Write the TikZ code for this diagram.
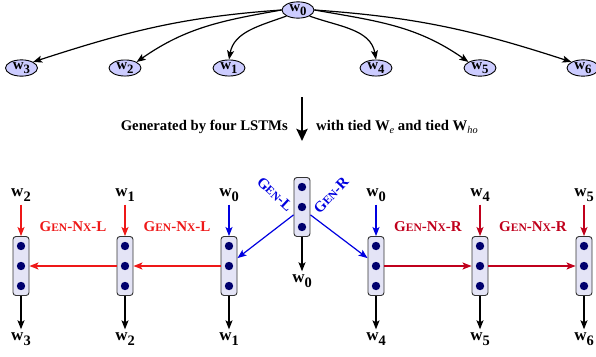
\documentclass[tikz,border=0pt]{standalone}
\usepackage{fontspec}
\setmainfont{Liberation Serif}
\usepackage{graphicx}
\usetikzlibrary{arrows.meta,calc,shapes.geometric}
\definecolor{redL}{HTML}{EE1818}
\definecolor{redR}{HTML}{C0001C}
\definecolor{blueG}{HTML}{0000E0}
\definecolor{ellfill}{HTML}{CCCCFF}
\definecolor{cellfill}{HTML}{E4E4F6}
\definecolor{dotc}{HTML}{00006E}
\newcommand\wsub[1]{w\raisebox{-0.3em}{\scalebox{0.85}{#1}}}
\newcommand\smcp[1]{{\fontsize{11.5}{12}\selectfont #1}}
\begin{document}
\begin{tikzpicture}[x=1pt,y=1pt,
  ell/.style={ellipse,draw=black,line width=0.9pt,fill=ellfill,minimum width=32pt,minimum height=16pt,inner sep=0pt,font=\fontsize{15}{15}\selectfont\bfseries},
  arr/.style={-{Stealth[length=9pt,width=7pt,inset=2pt]},line width=1.2pt},
  wlab/.style={font=\fontsize{17}{17}\selectfont\bfseries,inner sep=0pt},
  cellbox/.style={draw=black!80,line width=0.9pt,fill=cellfill,rounded corners=3pt,minimum width=16pt,minimum height=59pt,inner sep=0pt},
  gen/.style={font=\fontsize{15}{15}\selectfont\bfseries,inner sep=0pt},
  txt/.style={font=\fontsize{14.7}{15}\selectfont\bfseries,inner sep=0pt}]
\useasboundingbox (0,0) rectangle (596,-356);

% top tree
\node[ell] (t0) at (298,-10) {\wsub0};
\node[ell] (t3) at (21.5,-68) {\wsub3};
\node[ell] (t2) at (125,-68) {\wsub2};
\node[ell] (t1) at (229,-68) {\wsub1};
\node[ell] (t4) at (376,-68) {\wsub4};
\node[ell] (t5) at (480,-68) {\wsub5};
\node[ell] (t6) at (583,-68) {\wsub6};
\draw[arr] (t0.west) to[out=184,in=18] (t3.north east);
\draw[arr] (t0.west) to[out=190,in=35] (t2.north east);
\draw[arr] (t0.south west) to[out=200,in=80] (t1.north);
\draw[arr] (t0.east) to[out=-4,in=162] (t6.north west);
\draw[arr] (t0.east) to[out=-10,in=145] (t5.north west);
\draw[arr] (t0.south east) to[out=-20,in=100] (t4.north);

% middle
\coordinate (ma) at (302,-97);
\coordinate (mb) at (302,-141);
\draw[line width=2.8pt,-{Stealth[length=12pt,width=11pt,inset=2pt]}] (ma) -- (mb);
\node[txt,anchor=east] (g1) at (288,-127) {Generated by four LSTMs};
\node[txt,anchor=west] (g2) at (316,-127) {with tied W\raisebox{-0.25em}{\scalebox{0.7}{\itshape\mdseries e}} and tied W\raisebox{-0.25em}{\scalebox{0.7}{\itshape\mdseries ho}}};

% cells
\foreach \n/\x/\y in {c3/21/-266,c2/125/-266,c1/229/-266,c0/302/-207,c4/376/-266,c5/480/-266,c6/584/-266}{
  \node[cellbox] (\n) at (\x,\y) {};
  \foreach \d in {-20,0,20}{\fill[dotc] (\x,\y+\d) circle (4.2pt);}
}

% input labels
\node[wlab] (i2) at (21,-195) {\wsub2};
\node[wlab] (i1) at (125,-195) {\wsub1};
\node[wlab] (i0l) at (229,-195) {\wsub0};
\node[wlab] (i0r) at (376,-195) {\wsub0};
\node[wlab] (i4) at (480,-195) {\wsub4};
\node[wlab] (i5) at (584,-195) {\wsub5};
\draw[arr,redL] (i2.south) ++(0,-3) -- (c3.north);
\draw[arr,redL] (i1.south) ++(0,-3) -- (c2.north);
\draw[arr,blueG] (i0l.south) ++(0,-3) -- (c1.north);
\draw[arr,blueG] (i0r.south) ++(0,-3) -- (c4.north);
\draw[arr,redR] (i4.south) ++(0,-3) -- (c5.north);
\draw[arr,redR] (i5.south) ++(0,-3) -- (c6.north);

% output labels
\node[wlab] (o3) at (21,-339) {\wsub3};
\node[wlab] (o2) at (125,-339) {\wsub2};
\node[wlab] (o1) at (229,-339) {\wsub1};
\node[wlab] (o0) at (302,-281) {\wsub0};
\node[wlab] (o4) at (376,-339) {\wsub4};
\node[wlab] (o5) at (480,-339) {\wsub5};
\node[wlab] (o6) at (584,-339) {\wsub6};
\foreach \c/\o in {c3/o3,c2/o2,c1/o1,c0/o0,c4/o4,c5/o5,c6/o6}{
  \draw[arr] (\c.south) -- ($(\o.north)+(0,3)$);
}

% horizontal
\draw[arr,redL] (c1.west) -- (c2.east);
\draw[arr,redL] (c2.west) -- (c3.east);
\draw[arr,redR] (c4.east) -- (c5.west);
\draw[arr,redR] (c5.east) -- (c6.west);
\node[gen,redL] (l1) at (73,-227) {G\smcp{EN}-N\smcp{X}-L};
\node[gen,redL] (l2) at (177,-227) {G\smcp{EN}-N\smcp{X}-L};
\node[gen,redR] (r1) at (428,-227) {G\smcp{EN}-N\smcp{X}-R};
\node[gen,redR] (r2) at (533,-227) {G\smcp{EN}-N\smcp{X}-R};

% blue from centre
\draw[arr,blueG] (c0.223) -- (c1.43);
\draw[arr,blueG] (c0.-43) -- (c4.137);
\node[gen,blueG,rotate=-43] (gl) at (275,-194) {G\smcp{EN}-L};
\node[gen,blueG,rotate=47] (gr) at (331,-195) {G\smcp{EN}-R};
\end{tikzpicture}
\end{document}
